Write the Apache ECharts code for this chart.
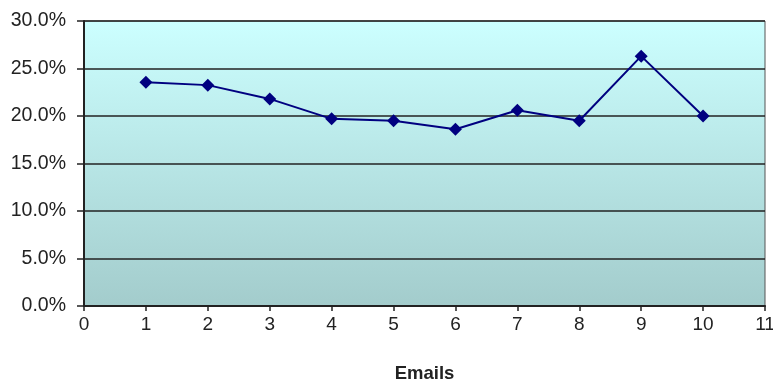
<!DOCTYPE html>
<html>
<head>
<meta charset="utf-8">
<script src="https://cdn.jsdelivr.net/npm/echarts@6/dist/echarts.min.js"></script>
<style>
  html, body { margin: 0; padding: 0; background: #ffffff; }
  #chart { width: 773px; height: 384px; }
</style>
</head>
<body>
<div id="chart"></div>
<script>
// Share of responses by number of emails sent
const emails = [1, 2, 3, 4, 5, 6, 7, 8, 9, 10];
const rates = [23.55, 23.25, 21.8, 19.7, 19.5, 18.6, 20.6, 19.5, 26.3, 20.0];
const xTicks = [0, 1, 2, 3, 4, 5, 6, 7, 8, 9, 10, 11];
const yTicks = [0, 5, 10, 15, 20, 25, 30];

const points = emails.map((e, i) => [e, rates[i]]);
const font = 'Liberation Sans, Arial, sans-serif';

const chart = echarts.init(document.getElementById('chart'), null, { renderer: 'canvas' });
chart.setOption({
  animation: false,
  backgroundColor: '#ffffff',
  grid: {
    left: 84, right: 8, top: 21, bottom: 78,
    outerBoundsMode: 'none',
    containLabel: false,
    show: true,
    borderColor: '#555555',
    borderWidth: 1,
    backgroundColor: new echarts.graphic.LinearGradient(0, 0, 0, 1, [
      { offset: 0, color: '#ccffff' },
      { offset: 1, color: '#a3cccc' }
    ])
  },
  xAxis: {
    type: 'value',
    min: xTicks[0],
    max: xTicks[xTicks.length - 1],
    interval: 1,
    name: 'Emails',
    nameLocation: 'middle',
    nameGap: 58,
    nameTextStyle: { fontFamily: font, fontSize: 18.5, fontWeight: 'bold', color: '#222222' },
    axisLine: { show: true, lineStyle: { color: '#222222', width: 2 } },
    axisTick: { show: true, length: 5, lineStyle: { color: '#222222', width: 1.5 } },
    axisLabel: { fontFamily: font, fontSize: 19, color: '#222222', margin: 9 },
    splitLine: { show: false }
  },
  yAxis: {
    type: 'value',
    min: yTicks[0],
    max: yTicks[yTicks.length - 1],
    interval: 5,
    axisLine: { show: true, lineStyle: { color: '#222222', width: 2 } },
    axisTick: { show: true, length: 7, lineStyle: { color: '#222222', width: 1.5 } },
    axisLabel: {
      fontFamily: font, fontSize: 19.5, color: '#222222', margin: 18,
      formatter: v => v.toFixed(1) + '%'
    },
    splitLine: { show: true, lineStyle: { color: '#222222', width: 1.5 } }
  },
  series: [{
    type: 'line',
    data: points,
    symbol: 'diamond',
    symbolSize: 13,
    lineStyle: { color: '#000080', width: 2 },
    itemStyle: { color: '#000080' }
  }]
});
</script>
</body>
</html>
